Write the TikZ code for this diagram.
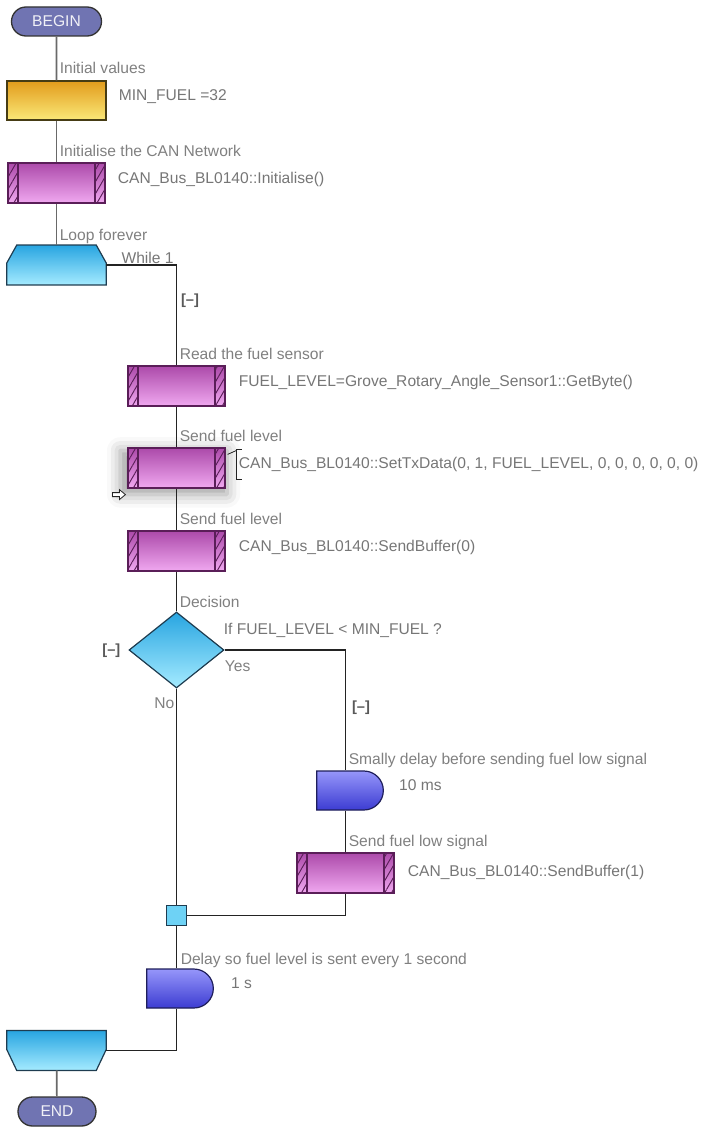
\documentclass[tikz,border=0pt]{standalone}
\usepackage{fontspec}
\setmainfont{Liberation Sans}
\usetikzlibrary{shapes.geometric, shapes.misc, positioning, calc, patterns.meta, shadows.blur}
\definecolor{pillblue}{RGB}{112,116,178}
\definecolor{calctop}{RGB}{226,156,28}
\definecolor{calcbot}{RGB}{250,232,120}
\definecolor{calcedge}{RGB}{70,60,20}
\definecolor{macrotop}{RGB}{172,74,170}
\definecolor{macrobot}{RGB}{240,168,240}
\definecolor{macroedge}{RGB}{90,30,88}
\definecolor{looptop}{RGB}{40,165,225}
\definecolor{loopbot}{RGB}{165,235,255}
\definecolor{loopedge}{RGB}{30,60,80}
\definecolor{delaytop}{RGB}{150,150,250}
\definecolor{delaybot}{RGB}{60,60,210}
\definecolor{delayedge}{RGB}{30,30,90}
\definecolor{joinfill}{RGB}{110,210,245}
\definecolor{notegray}{RGB}{128,128,128}
\definecolor{codegray}{RGB}{118,118,118}
\definecolor{wiregray}{RGB}{105,105,105}
\definecolor{wiredark}{RGB}{35,35,35}

\begin{document}
\begin{tikzpicture}[
    x=0.75pt, y=-0.75pt,
    every node/.style={inner sep=0pt, font=\fontsize{11.7}{13}\selectfont},
    wire/.style={draw=wiregray, line width=1.3pt},
    inwire/.style={draw=wiredark, line width=1.1pt},
    pill/.style={rounded rectangle, draw=black!80, line width=1pt, fill=pillblue, text=white!90!pillblue, minimum width=67.5pt, minimum height=21.75pt},
    calcbox/.style={rectangle, draw=calcedge, line width=0.9pt, top color=calctop, bottom color=calcbot, minimum width=74.25pt, minimum height=29.25pt},
    macrobox/.style={rectangle, draw=macroedge, line width=0.9pt, top color=macrotop, bottom color=macrobot, minimum width=72.75pt, minimum height=30pt,
        path picture={
            \foreach \c/\s in {west/1, east/-1} {
                \fill[pattern={Lines[angle=60, distance=4.5pt, line width=0.7pt]}, pattern color=macroedge]
                    (path picture bounding box.south \c) rectangle ([xshift=\s*7.5pt]path picture bounding box.north \c);
                \draw[macroedge, line width=0.9pt]
                    ([xshift=\s*7.5pt]path picture bounding box.south \c) -- ([xshift=\s*7.5pt]path picture bounding box.north \c);
            }
        }},
    loopspot/.style={rectangle, minimum width=74.25pt, minimum height=29.5pt},
    loopface/.style={draw=loopedge, line width=0.9pt, top color=looptop, bottom color=loopbot},
    decbox/.style={diamond, draw=loopedge, line width=0.9pt, top color=looptop, bottom color=loopbot, minimum width=71.25pt, minimum height=57pt},
    delaybox/.style={rounded rectangle, rounded rectangle west arc=none, draw=delayedge, line width=0.9pt, top color=delaytop, bottom color=delaybot, minimum width=50pt, minimum height=29.25pt},
    joinbox/.style={rectangle, draw=loopedge, line width=0.9pt, fill=joinfill, minimum size=15pt},
    note/.style={anchor=base west, text=notegray},
    code/.style={anchor=base west, text=codegray},
    fold/.style={text=black!65, font=\bfseries\fontsize{11}{13}\selectfont}
]
\useasboundingbox (0,0) rectangle (709,1127);

% outside the loop
\node[pill] (begin) at (56.5,21.5) {BEGIN};
\node[calcbox] (init) at (56.5,100.5) {};
\node[macrobox] (initcan) at (56.5,183) {};
\node[loopspot] (loopstart) at (56.5,265) {};
\path[loopface] ([shift={(0,18)}]loopstart.north west) -- ([shift={(10,0)}]loopstart.north west)
    -- ([shift={(-10,0)}]loopstart.north east) -- ([shift={(0,18)}]loopstart.north east)
    -- (loopstart.south east) -- (loopstart.south west) -- cycle;

\node[note] at ($(init.north)+(3,-7)$) {Initial values};
\node[code] at ($(init.east)+(12,0)$) {MIN\_FUEL =32};
\node[note] at ($(initcan.north)+(3,-6)$) {Initialise the CAN Network};
\node[code] at ($(initcan.east)+(12,0)$) {CAN\_Bus\_BL0140::Initialise()};
\node[note] at ($(loopstart.north)+(3,-5)$) {Loop forever};
\node[code] (whiletxt) at ($(loopstart.east)+(15,-2)$) {While 1};

% loop body
\node[fold] (loopfold) at (190,301) {[–]};
\node[macrobox] (readfuel) at (176.5,386) {};
\node[macrobox, blur shadow={shadow xshift=-2pt, shadow yshift=-3pt, shadow blur radius=9pt, shadow scale=1.1, shadow opacity=38}] (setdata) at (176.5,468) {};
\node[macrobox] (sendbuf) at (176.5,551) {};
\node[decbox] (decision) at (176.5,650) {};

\node[note] at ($(readfuel.north)+(3,-6)$) {Read the fuel sensor};
\node[code] at ($(readfuel.east)+(13,0)$) {FUEL\_LEVEL=Grove\_Rotary\_Angle\_Sensor1::GetByte()};
\node[note] at ($(setdata.north)+(3,-6)$) {Send fuel level};
\node[code] (setcode) at ($(setdata.east)+(13,0)$) {CAN\_Bus\_BL0140::SetTxData(0, 1, FUEL\_LEVEL, 0, 0, 0, 0, 0, 0)};
\node[note] at ($(sendbuf.north)+(3,-6)$) {Send fuel level};
\node[code] at ($(sendbuf.east)+(13,0)$) {CAN\_Bus\_BL0140::SendBuffer(0)};

\draw[wiredark, line width=0.8pt] ($(setdata.north east)+(16,2)$) -- ++(-5,0) -- ++(0,30) -- ++(5,0);
\draw[wiredark, line width=0.6pt] ($(setdata.north east)+(2,7)$) -- ($(setdata.north east)+(11,3)$);
\coordinate (cursor) at ($(setdata.south west)+(-2,6)$);
\draw[wiredark, line width=0.6pt, fill=white] (cursor) -- ++(-6,-5) -- ++(0,3) -- ++(-7,0) -- ++(0,4) -- ++(7,0) -- ++(0,3) -- cycle;

\node[note] at ($(decision.north)+(3,-4)$) {Decision};
\node[code] at ($(decision.east)+(-1,-16)$) {If FUEL\_LEVEL < MIN\_FUEL ?};
\node[note] at ($(decision.east)+(0,21)$) {Yes};
\node[note, anchor=base east] at ($(decision.south)+(-2,20)$) {No};
\node[fold] (decfold) at ($(decision.west)+(-17,1)$) {[–]};

% yes branch
\node[fold] (yesfold) at (361,708) {[–]};
\node[delaybox] (smalldelay) at (350,790.5) {};
\node[macrobox] (lowsend) at (345.5,873) {};
\node[note] at ($(smalldelay.north -| lowsend.north)+(3,-6)$) {Smally delay before sending fuel low signal};
\node[code] at ($(smalldelay.east)+(15,0)$) {10 ms};
\node[note] at ($(lowsend.north)+(3,-6)$) {Send fuel low signal};
\node[code] at ($(lowsend.east)+(13,3)$) {CAN\_Bus\_BL0140::SendBuffer(1)};

\node[joinbox] (join) at (176.5,915.5) {};
\node[delaybox] (bigdelay) at (180,988.5) {};
\node[note] at ($(bigdelay.north -| join.north)+(4,-4)$) {Delay so fuel level is sent every 1 second};
\node[code] at ($(bigdelay.east)+(17,0)$) {1 s};

\node[loopspot] (loopend) at (56.5,1050.5) {};
\path[loopface] (loopend.north west) -- (loopend.north east) -- ([shift={(0,-21)}]loopend.south east)
    -- ([shift={(-10,0)}]loopend.south east) -- ([shift={(10,0)}]loopend.south west)
    -- ([shift={(0,-21)}]loopend.south west) -- cycle;
\node[pill, minimum width=58.5pt] (end) at (57,1111.5) {END};

% connectors
\draw[wire] (begin) -- (init);
\draw[wire] (init) -- (initcan);
\draw[wire] (initcan) -- (loopstart);
\draw[inwire] (loopstart.east) -| (readfuel.north);
\draw[inwire] (readfuel) -- (setdata);
\draw[inwire] (setdata) -- (sendbuf);
\draw[inwire] (sendbuf) -- (decision);
\draw[inwire] (decision.south) -- (join.north);
\draw[inwire] (decision.east) -| (smalldelay.north -| lowsend.north);
\draw[inwire] (smalldelay.south -| lowsend.north) -- (lowsend.north);
\draw[inwire] (lowsend.south) |- (join.east);
\draw[inwire] (join.south) -- (bigdelay.north -| join.south);
\draw[inwire] (bigdelay.south -| join.south) |- (loopend.east);
\draw[wire] (loopend) -- (end);
\end{tikzpicture}
\end{document}
